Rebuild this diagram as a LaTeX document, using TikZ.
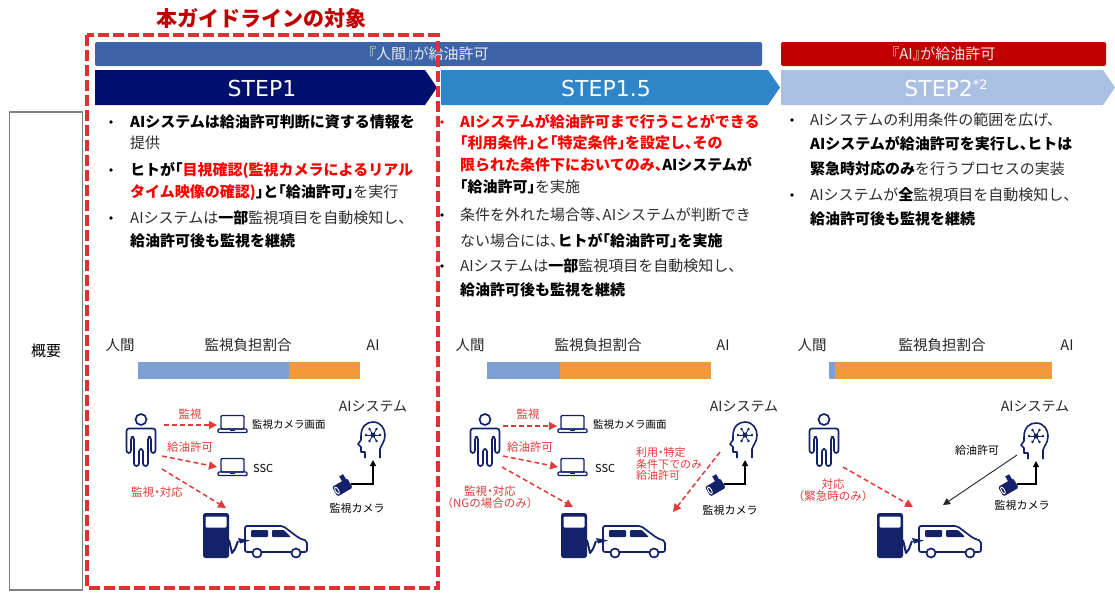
\documentclass[tikz,border=0pt]{standalone}
\usepackage{fontspec}
\setmainfont{Noto Sans CJK JP}[RawFeature=+halt]
\newfontfamily\stepfont{DejaVu Sans}
\usetikzlibrary{arrows.meta}

\definecolor{navy}{RGB}{0,15,110}
\definecolor{stepmid}{RGB}{46,134,200}
\definecolor{steplight}{RGB}{169,192,226}
\definecolor{hdrblue}{RGB}{61,100,168}
\definecolor{hdrred}{RGB}{192,0,0}
\definecolor{framered}{RGB}{220,50,50}
\definecolor{titlered}{RGB}{192,0,0}
\definecolor{hl}{RGB}{255,0,0}
\definecolor{barblue}{RGB}{127,160,210}
\definecolor{barorange}{RGB}{244,153,58}
\definecolor{icon}{RGB}{20,35,105}
\definecolor{arrowred}{RGB}{224,60,60}
\definecolor{txtgray}{RGB}{45,45,45}

\newcommand{\setfs}[1]{\fontsize{#1}{#1}\selectfont}
\newcommand{\redb}[1]{\textcolor{hl}{\textbf{#1}}}
\newcommand{\blk}[1]{\textcolor{black}{\textbf{#1}}}

% pictograms, each drawn from a local origin
\newcommand{\personicon}[1]{%
  \begin{scope}[shift={#1}, draw=icon, line width=1.7pt, line join=round]
    \draw (0,6.5) circle (5.5);
    \draw[rounded corners=2.5pt] (-2,53) -- (-2,36) -- (2,36) -- (2,53) -- (7,53) -- (7,24) -- (10,24) -- (10,40) -- (14.5,40) -- (14.5,15.5) -- (-14.5,15.5) -- (-14.5,40) -- (-10,40) -- (-10,24) -- (-7,24) -- (-7,53) -- cycle;
  \end{scope}}
\newcommand{\laptopicon}[1]{%
  \begin{scope}[shift={#1}, draw=icon, line width=1.4pt]
    \draw[rounded corners=1.2pt, fill=white] (3,0.5) rectangle (26,14);
    \draw[rounded corners=1pt] (0,14) rectangle (29,17.5);
    \draw[line width=0.8pt] (12,15.8) -- (17,15.8);
  \end{scope}}
\newcommand{\headicon}[1]{%
  \begin{scope}[shift={#1}, draw=icon, line width=1.6pt, line join=round]
    \draw (8,36) -- (8,30) -- (4,30) -- (4,25) -- (1,22) -- (4,18) -- (4,14) .. controls (4,4) and (10,0) .. (16,0) .. controls (24,0) and (28,7) .. (28,13) .. controls (28,20) and (24,23) .. (23,27) -- (23,36);
    \fill[icon] (16,13) circle (2.5);
    \foreach \a in {0,60,...,300} {
      \draw[line width=0.8pt] (16,13) -- ++(\a:7);
      \fill[icon] (16,13) ++(\a:7) circle (1.4);
    }
  \end{scope}}
\newcommand{\cameraicon}[1]{%
  \begin{scope}[shift={#1}, rotate=30]
    \fill[icon] (2,-3) rectangle (6.5,-11);
    \fill[icon, rounded corners=1.5pt] (-9.5,-5.5) rectangle (8,5.5);
    \draw[white, line width=0.9pt] (-7,0) ellipse (1.6 and 3.8);
  \end{scope}}
\newcommand{\stationicon}[1]{%
  \begin{scope}[shift={#1}]
    \fill[icon, rounded corners=2.5pt] (0,0) rectangle (26,45);
    \fill[white, rounded corners=1.2pt] (2.5,3.5) rectangle (23.5,14.5);
    \draw[icon, line width=2pt, line join=round] (26,27) -- (29,40) -- (32,36) -- (35,28);
    \begin{scope}[shift={(40,12)}]
      \draw[icon, line width=1.7pt, fill=white, rounded corners=2pt] (2,27) -- (2,1) -- (40,1) -- (56,13) -- (64,16) -- (64,27) -- cycle;
      \fill[icon, rounded corners=1pt] (8,5) rectangle (25,12);
      \fill[icon, rounded corners=1pt] (29,5) -- (41,5) -- (48,12) -- (29,12) -- cycle;
      \draw[icon, line width=1.7pt, fill=white] (14,28) circle (4.5) (53,28) circle (4.5);
      \fill[icon] (-5,13) -- (7,15.5) -- (-3,18.5) -- cycle;
    \end{scope}
  \end{scope}}

\tikzset{
  line/.style={inner sep=0pt, anchor=base west, yshift=-5.5pt, font=\setfs{15}, text=txtgray},
  bul/.style={circle, fill=black, inner sep=0pt, minimum size=3.6pt},
  lbl/.style={inner sep=0pt, font=\setfs{14.5}, text=black!85},
  small/.style={inner sep=0pt, font=\setfs{10.5}, text=black},
  redlbl/.style={inner sep=0pt, font=\setfs{11.5}, text=arrowred},
  hbar/.style={rounded corners=2pt, minimum height=24pt, inner sep=0pt, font=\setfs{15}, text=white!92!black},
  steptext/.style={inner sep=0pt, font=\stepfont\setfs{22}, text=white},
  redarrow/.style={draw=arrowred, line width=1.5pt, dash pattern=on 5pt off 3pt, -{Triangle[length=8pt,width=8pt]}},
  blkarrow/.style={draw=black, line width=1.2pt, -{Triangle[length=6pt,width=6pt]}},
  thinarrow/.style={draw=black!85, line width=0.9pt, -{Triangle[length=7pt,width=7pt]}}
}

\begin{document}
\begin{tikzpicture}[x=1pt,y=-1pt]
\useasboundingbox (0,0) rectangle (1115,592);
\fill[white] (0,0) rectangle (1115,592);

% title above the framed column
\node[font=\setfs{21}\bfseries, text=titlered, inner sep=0pt] (title) at (261,19) {本ガイドラインの対象};

% header bars
\node[hbar, fill=hdrblue, minimum width=667pt] (hdrH) at (428.5,54) {『人間』が給油許可};
\node[hbar, fill=hdrred, minimum width=325pt] (hdrA) at (943.5,54) {『AI』が給油許可};

% step chevrons
\fill[navy] (95,70) -- (425,70) -- (437,87.5) -- (425,105) -- (95,105) -- cycle;
\fill[stepmid] (441,70) -- (768,70) -- (780,87.5) -- (768,105) -- (441,105) -- cycle;
\fill[steplight] (781,70) -- (1103,70) -- (1115,87.5) -- (1103,105) -- (781,105) -- cycle;
\node[steptext] (st1) at (262,88) {STEP1};
\node[steptext] (st15) at (606,88) {STEP1.5};
\node[steptext] (st2) at (946,88) {STEP2\raisebox{7pt}{\setfs{13}*2}};

% side label
\node[draw=gray, line width=1.3pt, minimum width=73pt, minimum height=478pt, inner sep=0pt, font=\setfs{15}] (ov) at (46,351) {概要};

% STEP1 description
\node[bul] (b11) at (111,122) {};
\node[line] (t11) at (130,122) {\blk{AIシステムは給油許可判断に資する情報を}};
\node[line] (t12) at (130,143) {提供};
\node[bul] (b12) at (111,170) {};
\node[line] (t13) at (130,170) {\blk{ヒトが「}\redb{目視確認(監視カメラによるリアル}};
\node[line] (t14) at (130,192) {\redb{タイム映像の確認)}\blk{」と「給油許可」}を実行};
\node[bul] (b13) at (111,218) {};
\node[line] (t15) at (130,218) {AIシステムは\blk{一部}監視項目を自動検知し、};
\node[line] (t16) at (130,241) {\blk{給油許可後も監視を継続}};

% STEP1.5 description
\node[bul, fill=hl] (b21) at (442,122) {};
\node[line] (t21) at (460,122) {\redb{AIシステムが給油許可まで行うことができる}};
\node[line] (t22) at (460,143) {\redb{「利用条件」と「特定条件」を設定し、その}};
\node[line] (t23) at (460,165) {\redb{限られた条件下においてのみ、}\blk{AIシステムが}};
\node[line] (t24) at (460,187) {\blk{「給油許可」}を実施};
\node[bul] (b22) at (442,215) {};
\node[line] (t25) at (460,215) {条件を外れた場合等、AIシステムが判断でき};
\node[line] (t26) at (460,241) {ない場合には、\blk{ヒトが「給油許可」を実施}};
\node[bul] (b23) at (442,266) {};
\node[line] (t27) at (460,266) {AIシステムは\blk{一部}監視項目を自動検知し、};
\node[line] (t28) at (460,290) {\blk{給油許可後も監視を継続}};

% STEP2 description
\node[bul] (b31) at (792,120) {};
\node[line] (t31) at (810,120) {AIシステムの利用条件の範囲を広げ、};
\node[line] (t32) at (810,144) {\blk{AIシステムが給油許可を実行し、ヒトは}};
\node[line] (t33) at (810,169) {\blk{緊急時対応のみ}を行うプロセスの実装};
\node[bul] (b32) at (792,195) {};
\node[line] (t34) at (810,195) {AIシステムが\blk{全}監視項目を自動検知し、};
\node[line] (t35) at (810,219) {\blk{給油許可後も監視を継続}};

% monitoring share bars
\node[lbl] (h1) at (120,345) {人間};
\node[lbl] (m1) at (248,345) {監視負担割合};
\node[lbl] (a1) at (373,345) {AI};
\fill[barblue] (138,362) rectangle (289,379);
\fill[barorange] (289,362) rectangle (360,379);

\node[lbl] (h2) at (470,345) {人間};
\node[lbl] (m2) at (598,345) {監視負担割合};
\node[lbl] (a2) at (723,345) {AI};
\fill[barblue] (487,362) rectangle (560,379);
\fill[barorange] (560,362) rectangle (711,379);

\node[lbl] (h3) at (812,345) {人間};
\node[lbl] (m3) at (942,345) {監視負担割合};
\node[lbl] (a3) at (1067,345) {AI};
\fill[barblue] (829,362) rectangle (835,379);
\fill[barorange] (835,362) rectangle (1052,379);

% ---- STEP1 scene ----
\personicon{(141,413)}
\laptopicon{(218,415)}
\laptopicon{(218,458)}
\stationicon{(203,513)}
\headicon{(357,422)}
\cameraicon{(343,487)}
\node[small, anchor=west] (scr1) at (252,425) {監視カメラ画面};
\node[small, anchor=west, font=\setfs{11}] (ssc1) at (253,468) {SSC};
\node[lbl, font=\setfs{14}] (ai1) at (373,406) {AIシステム};
\node[small, font=\setfs{11}] (cam1) at (357,508) {監視カメラ};
\coordinate (p1a) at (164,425); \coordinate (l1a) at (217,425);
\coordinate (p1b) at (162,456); \coordinate (l1b) at (217,467);
\coordinate (p1c) at (162,469); \coordinate (s1) at (226,508);
\coordinate (c1) at (351,484); \coordinate (hd1) at (373,460);
\draw[redarrow] (p1a) -- (l1a);
\draw[redarrow] (p1b) -- (l1b);
\draw[redarrow] (p1c) -- (s1);
\draw[blkarrow] (c1) -| (hd1);
\node[redlbl] (r11) at (190,414) {監視};
\node[redlbl] (r12) at (190,447) {給油許可};
\node[redlbl] (r13) at (157,492) {監視・対応};

% ---- STEP1.5 scene ----
\personicon{(485,413)}
\laptopicon{(558,415)}
\laptopicon{(558,458)}
\stationicon{(561,513)}
\headicon{(729,422)}
\cameraicon{(716,487)}
\node[small, anchor=west] (scr2) at (593,425) {監視カメラ画面};
\node[small, anchor=west, font=\setfs{11}] (ssc2) at (595,468) {SSC};
\node[lbl, font=\setfs{14}] (ai2) at (744,406) {AIシステム};
\node[small, font=\setfs{11}] (cam2) at (730,510) {監視カメラ};
\coordinate (p2a) at (503,426); \coordinate (l2a) at (557,426);
\coordinate (p2b) at (503,456); \coordinate (l2b) at (558,467);
\coordinate (p2c) at (502,467); \coordinate (s2) at (573,507);
\coordinate (hq2) at (720,452); \coordinate (s2b) at (673,512);
\coordinate (c2) at (724,484); \coordinate (hd2) at (745,460);
\draw[redarrow] (p2a) -- (l2a);
\draw[redarrow] (p2b) -- (l2b);
\draw[redarrow] (p2c) -- (s2);
\draw[redarrow] (hq2) -- (s2b);
\draw[blkarrow] (c2) -| (hd2);
\node[redlbl] (r21) at (528,414) {監視};
\node[redlbl] (r22) at (530,447) {給油許可};
\node[redlbl, align=center, font=\fontsize{11.5}{12.5}\selectfont] (r23) at (490,497) {監視・対応\\（NGの場合のみ）};
\node[redlbl, align=left, anchor=west, font=\fontsize{11}{11.2}\selectfont] (r24) at (636,464) {利用・特定\\条件下でのみ\\給油許可};

% ---- STEP2 scene ----
\personicon{(824,413)}
\stationicon{(877,513)}
\headicon{(1020,423)}
\cameraicon{(1009,487)}
\node[lbl, font=\setfs{14}] (ai3) at (1035,406) {AIシステム};
\node[small, font=\setfs{11}] (cam3) at (1022,505) {監視カメラ};
\coordinate (p3) at (843,467); \coordinate (s3) at (913,507);
\coordinate (hq3) at (1017,455); \coordinate (s3b) at (943,505);
\coordinate (c3) at (1017,484); \coordinate (hd3) at (1036,461);
\draw[redarrow] (p3) -- (s3);
\draw[thinarrow] (hq3) -- (s3b);
\draw[blkarrow] (c3) -| (hd3);
\node[redlbl, align=center, font=\fontsize{11.5}{12}\selectfont] (r31) at (833,490) {対応\\（緊急時のみ）};
\node[small, font=\setfs{11}] (g3) at (977,450) {給油許可};

% scope frame of this guideline
\draw[framered, line width=4pt, dash pattern=on 11pt off 4pt] (87,35) rectangle (437.5,588);
\end{tikzpicture}
\end{document}
